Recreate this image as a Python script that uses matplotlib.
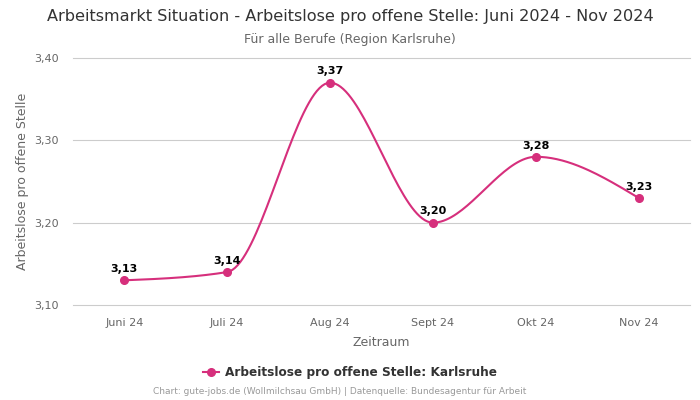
import numpy as np
import matplotlib
matplotlib.use("Agg")
import matplotlib.pyplot as plt
from matplotlib import font_manager

categories = ["Juni 24", "Juli 24", "Aug 24", "Sept 24", "Okt 24", "Nov 24"]
values = [3.13, 3.14, 3.37, 3.20, 3.28, 3.23]
value_labels = ["3,13", "3,14", "3,37", "3,20", "3,28", "3,23"]
yticks = [3.10, 3.20, 3.30, 3.40]
ytick_labels = ["3,10", "3,20", "3,30", "3,40"]

names = {f.name for f in font_manager.fontManager.ttflist}
fam = "DejaVu Sans Condensed" if "DejaVu Sans Condensed" in names else "DejaVu Sans"
plt.rcParams['font.family'] = [fam, 'DejaVu Sans']

color = "#d62f7c"


def monotone_curve(x, y, n=40):
    x = np.asarray(x, float); y = np.asarray(y, float)
    h = np.diff(x); s = np.diff(y) / h
    m = np.zeros_like(y)
    for i in range(1, len(y) - 1):
        p = (s[i-1] * h[i] + s[i] * h[i-1]) / (h[i-1] + h[i])
        m[i] = (np.sign(s[i-1]) + np.sign(s[i])) * min(abs(s[i-1]), abs(s[i]), 0.5 * abs(p))
    m[0] = (3 * s[0] - m[1]) / 2
    m[-1] = (3 * s[-1] - m[-2]) / 2
    xs, ys = [], []
    for i in range(len(h)):
        t = np.linspace(0, 1, n)
        x0, x1 = x[i], x[i+1]; y0, y1 = y[i], y[i+1]
        dx = (x1 - x0) / 3
        p0 = (x0, y0); p1 = (x0 + dx, y0 + dx * m[i]); p2 = (x1 - dx, y1 - dx * m[i+1]); p3 = (x1, y1)
        bx = (1-t)**3*p0[0] + 3*(1-t)**2*t*p1[0] + 3*(1-t)*t**2*p2[0] + t**3*p3[0]
        by = (1-t)**3*p0[1] + 3*(1-t)**2*t*p1[1] + 3*(1-t)*t**2*p2[1] + t**3*p3[1]
        xs.extend(bx); ys.extend(by)
    return np.array(xs), np.array(ys)


fig = plt.figure(figsize=(7, 4), dpi=100)
ax = fig.add_axes([0.104, 0.2375, 0.882, 0.6175])
x = np.arange(len(categories))
cx, cy = monotone_curve(x, values)
ax.plot(cx, cy, color=color, lw=1.5, zorder=3)
ax.plot(x, values, 'o', color=color, ms=5.5, zorder=4)
for xi, v, lab in zip(x, values, value_labels):
    ax.annotate(lab, (xi, v), xytext=(0, 4.5), textcoords='offset points',
                ha='center', va='bottom', fontsize=8, fontweight='bold', color='black')

ax.set_xlim(-0.5, len(categories) - 0.5)
ax.set_ylim(3.10, 3.40)
ax.set_yticks(yticks)
ax.set_yticklabels(ytick_labels)
ax.set_xticks(x)
ax.set_xticklabels(categories)
ax.tick_params(axis='both', length=0, labelsize=8, colors='#666666')
ax.tick_params(axis='x', pad=9)
ax.tick_params(axis='y', pad=10)
ax.grid(axis='y', color='#cccccc', lw=0.8)
for gl in ax.get_ygridlines():
    gl.set_clip_on(False)
ax.set_axisbelow(True)
for sp in ax.spines.values():
    sp.set_visible(False)
ax.set_xlabel("Zeitraum", fontsize=9, color='#666666', labelpad=6)
ax.set_ylabel("Arbeitslose pro offene Stelle", fontsize=9, color='#666666', labelpad=4)

fig.text(0.5, 0.958, "Arbeitsmarkt Situation - Arbeitslose pro offene Stelle: Juni 2024 - Nov 2024",
         ha='center', va='center', fontsize=11.6, color='#333333')
fig.text(0.5, 0.902, "Für alle Berufe (Region Karlsruhe)", ha='center', va='center',
         fontsize=9, color='#666666')

leg_line = matplotlib.lines.Line2D([], [], color=color, lw=1.5, marker='o', ms=5.5)
fig.legend([leg_line], ["Arbeitslose pro offene Stelle: Karlsruhe"], loc='center',
           bbox_to_anchor=(0.5, 0.068), frameon=False, handlelength=1.3, handletextpad=0.5,
           prop={'size': 8.7, 'weight': 'bold'}, labelcolor='#333333')
fig.text(0.485, 0.02, "Chart: gute-jobs.de (Wollmilchsau GmbH) | Datenquelle: Bundesagentur für Arbeit",
         ha='center', va='center', fontsize=6.5, color='#999999')

fig.savefig("out.png", dpi=100)
